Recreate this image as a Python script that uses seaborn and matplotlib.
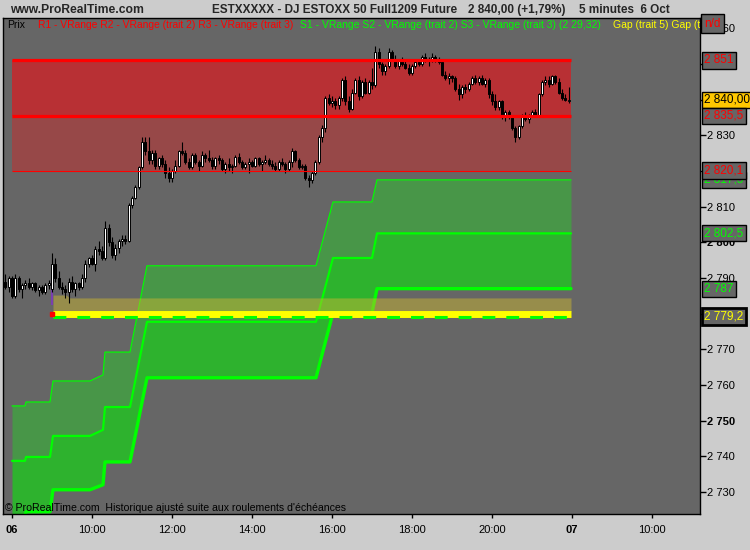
import numpy as np
import pandas as pd
import seaborn as sns
import matplotlib
matplotlib.use('Agg')
import matplotlib.pyplot as plt
from matplotlib.transforms import blended_transform_factory

# 5 minute candles of 6 Oct, first bar 07:50 (hours counted from 08:00)
opens = [2789, 2787.5, 2790, 2785, 2790, 2787, 2788, 2788.5, 2787.5, 2788.5,
         2786.5, 2787.5, 2786, 2788, 2787, 2794, 2790, 2787.5, 2787, 2786,
         2789, 2787, 2788.5, 2787.5, 2790, 2794, 2795.5, 2794, 2798, 2797.5,
         2795.5, 2804, 2800, 2796.5, 2798.5, 2800.5, 2801, 2800.5, 2810.5, 2812.5,
         2815.5, 2821, 2828, 2825.5, 2823, 2825, 2821.5, 2823.5, 2822, 2819.5,
         2818, 2820, 2821.5, 2825.5, 2825, 2822.5, 2821, 2824.5, 2822.5, 2821.5,
         2824.5, 2823.5, 2823, 2821.5, 2823.5, 2823, 2820.5, 2822, 2821, 2821.5,
         2824, 2822.5, 2821, 2822, 2822.5, 2821.5, 2823.5, 2822, 2822.5, 2823,
         2822, 2821.5, 2820.5, 2822.5, 2822, 2820.5, 2822.5, 2825.5, 2823, 2821,
         2821.5, 2818, 2817.5, 2819.5, 2822.5, 2829.5, 2832, 2840.5, 2839, 2839.5,
         2838.5, 2840.5, 2845.5, 2839.5, 2837.5, 2842, 2845.5, 2841, 2845, 2842,
         2845, 2844, 2853.5, 2850, 2848, 2849.5, 2853.5, 2851.5, 2849.5, 2851,
         2850, 2849, 2847.5, 2849.5, 2850.5, 2850, 2852, 2851, 2851.5, 2852,
         2851, 2850.5, 2847, 2846, 2846.5, 2846, 2843, 2841.5, 2843.5, 2843,
         2844.5, 2846, 2845, 2846, 2844.5, 2845.5, 2841.5, 2839.5, 2838, 2839.5,
         2835, 2836.5, 2835, 2832, 2829.5, 2832.5, 2835.5, 2834.5, 2835.5, 2836.5,
         2835.5, 2841.5, 2845, 2845.5, 2844.5, 2846.5, 2845, 2842, 2840.5, 2839.5]
highs = [2791, 2790.5, 2790.5, 2791, 2790.5, 2788.5, 2789.5, 2790, 2789, 2789,
         2788, 2788, 2788.5, 2789.5, 2797, 2795.5, 2792, 2789, 2788, 2790,
         2790.5, 2789, 2789, 2791, 2795, 2796, 2796.5, 2799, 2800.5, 2799,
         2806, 2805, 2801.5, 2799.5, 2801, 2802, 2802, 2811, 2813, 2816,
         2821.5, 2829.5, 2829.5, 2829.5, 2826, 2826, 2824, 2824.5, 2823, 2821,
         2820.5, 2823, 2826, 2828, 2826, 2823.5, 2825, 2825, 2823, 2825.5,
         2825, 2826, 2824, 2824, 2824.5, 2823.5, 2822.5, 2823.5, 2822, 2824.5,
         2825, 2823, 2822.5, 2823.5, 2823, 2824, 2824, 2823, 2824.5, 2823.5,
         2823, 2822.5, 2823, 2823.5, 2822.5, 2823, 2826.5, 2826, 2823.5, 2822,
         2822, 2819, 2820, 2823, 2830, 2833, 2841, 2841.5, 2841, 2840.5,
         2841, 2846, 2846.5, 2841, 2843, 2846, 2846.5, 2845.5, 2846, 2845.5,
         2849, 2855, 2854.5, 2850.5, 2850, 2854.5, 2854, 2852.5, 2851.5, 2852,
         2851.5, 2850, 2850, 2851.5, 2851, 2852.5, 2853, 2852, 2853, 2852.5,
         2852, 2851, 2848, 2847.5, 2847, 2846.5, 2844.5, 2844, 2844.5, 2845,
         2846.5, 2847, 2846.5, 2847, 2846, 2846, 2842.5, 2841.5, 2840, 2840,
         2837, 2837, 2835.5, 2832.5, 2833, 2836, 2836.5, 2836, 2837, 2837.5,
         2842, 2845.5, 2846.5, 2846.5, 2847, 2847, 2846, 2843, 2841.5, 2843.5]
lows = [2787, 2786, 2784.5, 2784.5, 2786, 2784.5, 2787, 2787, 2786.5, 2786,
        2785, 2785.5, 2785.5, 2787, 2786, 2789, 2787, 2785.5, 2784.5, 2783,
        2786, 2785, 2786.5, 2787, 2789, 2793, 2793.5, 2792, 2796.5, 2795,
        2795, 2799, 2795.5, 2795, 2797, 2799, 2799.5, 2800, 2809.5, 2812,
        2815, 2820.5, 2824.5, 2822, 2822, 2820.5, 2820.5, 2821, 2818, 2817,
        2817, 2819.5, 2821, 2824.5, 2822, 2820.5, 2820.5, 2822, 2820, 2821,
        2822.5, 2822.5, 2820.5, 2820.5, 2822, 2820, 2819.5, 2820, 2819.5, 2821,
        2822, 2820.5, 2820.5, 2819.5, 2821, 2821, 2821.5, 2820, 2822, 2821.5,
        2820.5, 2820, 2820, 2821.5, 2819.5, 2820, 2821, 2822.5, 2820.5, 2820.5,
        2817.5, 2815.5, 2816.5, 2819, 2822, 2828, 2831, 2838.5, 2838, 2837.5,
        2837.5, 2839.5, 2838.5, 2836.5, 2837, 2841.5, 2840, 2840.5, 2841.5, 2841.5,
        2843, 2843.5, 2849, 2847, 2847, 2849, 2851, 2849, 2848.5, 2849.5,
        2848.5, 2847, 2847, 2849, 2849.5, 2849.5, 2850.5, 2849.5, 2850.5, 2850.5,
        2850, 2846.5, 2845.5, 2844.5, 2845, 2842.5, 2840, 2840.5, 2842, 2842.5,
        2844, 2844.5, 2844, 2844, 2843.5, 2840.5, 2838.5, 2837, 2837, 2834.5,
        2834, 2834.5, 2831.5, 2828, 2829, 2832, 2834, 2833.5, 2835, 2835,
        2835, 2841, 2844, 2843.5, 2844, 2844.5, 2841.5, 2840, 2839.5, 2839]
closes = [2787.5, 2790, 2785, 2790, 2787, 2788, 2788.5, 2787.5, 2788.5, 2786.5,
          2787.5, 2786, 2788, 2788.5, 2794, 2790, 2787.5, 2787, 2786, 2789,
          2787, 2788.5, 2787.5, 2790, 2794, 2795.5, 2794, 2798, 2797.5, 2795.5,
          2804, 2800, 2796.5, 2798.5, 2800.5, 2801, 2800.5, 2810.5, 2812.5, 2815.5,
          2821, 2828, 2825.5, 2823, 2825, 2821.5, 2823.5, 2822, 2819.5, 2818,
          2820, 2821.5, 2825.5, 2825, 2822.5, 2821, 2824.5, 2822.5, 2821.5, 2824.5,
          2823.5, 2823, 2821.5, 2823.5, 2823, 2820.5, 2822, 2821, 2821.5, 2824,
          2822.5, 2821, 2822, 2822.5, 2821.5, 2823.5, 2822, 2822.5, 2823, 2822,
          2821.5, 2820.5, 2822.5, 2822, 2820.5, 2822.5, 2825.5, 2823, 2821, 2821.5,
          2818, 2817.5, 2819.5, 2822.5, 2829.5, 2832, 2840.5, 2839, 2839.5, 2838.5,
          2840.5, 2845.5, 2839.5, 2837.5, 2842, 2845.5, 2841, 2845, 2842, 2845,
          2844, 2853.5, 2850, 2848, 2849.5, 2853.5, 2851.5, 2849.5, 2851, 2850,
          2849, 2847.5, 2849.5, 2850.5, 2850, 2852, 2851, 2851.5, 2852, 2851,
          2850.5, 2847, 2846, 2846.5, 2846, 2843, 2841.5, 2843.5, 2843, 2844.5,
          2846, 2845, 2846, 2844.5, 2845.5, 2841.5, 2839.5, 2838, 2839.5, 2835,
          2836.5, 2835, 2832, 2829.5, 2832.5, 2835.5, 2834.5, 2835.5, 2836.5, 2835.5,
          2841.5, 2845, 2845.5, 2844.5, 2846.5, 2845, 2842, 2840.5, 2840, 2840]

# VRange resistances R1, R2, R3 (flat over the session)
r_levels = [2851.0, 2835.5, 2820.1]
band_t = [0.0, 13.975]

# VRange supports S1, S2, S3 (step lines)
s_t = [0.0, 0.325, 0.35, 0.95, 1.025, 1.95, 2.275, 2.325, 2.95, 3.375,
       7.6, 8.025, 9.0, 9.125, 13.975]
s1 = [2754.1, 2754.1, 2755.2, 2755.2, 2761.1, 2761.1, 2762.8, 2769.2, 2769.2, 2793.4,
      2793.4, 2811.3, 2811.3, 2817.5, 2817.5]
s2 = [2738.7, 2738.7, 2739.8, 2739.8, 2745.7, 2745.7, 2747.4, 2753.8, 2753.8, 2777.7,
      2777.7, 2795.6, 2795.6, 2802.5, 2802.5]
s3 = [2723.3, 2723.3, 2724.4, 2724.4, 2730.6, 2730.6, 2732.0, 2738.4, 2738.4, 2762.0,
      2762.0, 2780.2, 2780.2, 2787.0, 2787.0]

# Gap zone
gap_t = [1.025, 1.35, 1.45, 13.975]
gap_top = [2785.2, 2785.2, 2784.4, 2784.4]
gap_bottom = [2780.7, 2780.7, 2780.7, 2780.7]
gap_line = 2779.75
gap_dash = 2779.0

# value boxes on the price scale
box_values = [2851.0, 2840.0, 2835.5, 2817.5, 2820.1, 2802.5, 2787.0, 2779.2]
box_texts = ["2 851", "2 840,00", "2 835,5", "2 817,5", "2 820,1", "2 802,5", "2 787", "2 779,2"]
box_colors = ['#ff0000', 'black', '#ff0000', '#00ff00', '#ff0000', '#00ff00', '#00ff00', '#ffff00']

x_ticks = [0, 2, 4, 6, 8, 10, 12, 14, 16]
x_labels = ["06", "10:00", "12:00", "14:00", "16:00", "18:00", "20:00", "07", "10:00"]
y_ticks = list(range(2730, 2870, 10))
hidden_ticks = [2780, 2820, 2840, 2850]  # fully covered by value boxes

sns.set_style("ticks")
plt.rcParams['font.family'] = ['Liberation Sans', 'DejaVu Sans']

fig = plt.figure(figsize=(7.5, 5.5), dpi=100, facecolor='#cccccc')
ax = fig.add_axes([3 / 750, 1 - 514 / 550, 697 / 750, 496 / 550])
ax.set_facecolor('#666666')

# red bands
ax.fill_between(band_t, r_levels[1], r_levels[0], color='#b83034', lw=0, zorder=1)
ax.fill_between(band_t, r_levels[2], r_levels[1], color='#974848', lw=0, zorder=1)

# green bands
ax.fill_between(s_t, s2, s1, color='#489648', lw=0, zorder=1)
ax.fill_between(s_t, s3, s2, color='#2eb22e', lw=0, zorder=1)
sns.lineplot(x=s_t, y=s1, ax=ax, color='#00ff00', lw=0.9, zorder=2)
sns.lineplot(x=s_t, y=s2, ax=ax, color='#00ff00', lw=1.6, zorder=2)
sns.lineplot(x=s_t, y=s3, ax=ax, color='#00ff00', lw=2.4, zorder=2)

# gap zone
ax.fill_between(gap_t, gap_bottom, gap_top, color='#c8b432', alpha=0.5, lw=0, zorder=3)
sns.lineplot(x=[gap_t[0], gap_t[-1]], y=[gap_line, gap_line], ax=ax, color='#ffff00', lw=5,
             solid_capstyle='butt', zorder=3)
ax.plot([gap_t[0], gap_t[-1]], [gap_dash, gap_dash], color='#00ff00', lw=2.2,
        linestyle=(0, (4.2, 3.6)), dash_capstyle='butt', zorder=3)
ax.vlines(gap_t[0] - 0.03, 2782.5, 2789.5, color='#7a3fb0', lw=1.5, zorder=3)
ax.plot(gap_t[0] - 0.03, gap_line, marker='s', ms=3, color='#ff0000', zorder=3)

# candles
df = pd.DataFrame({'open': opens, 'high': highs, 'low': lows, 'close': closes})
df['t'] = -1 / 6 + np.arange(len(df)) / 12
up = df['close'] >= df['open']
ax.vlines(df['t'], df['low'], df['high'], color='black', lw=0.8, zorder=4)
body_bottom = df[['open', 'close']].min(axis=1)
body_height = (df['close'] - df['open']).abs().clip(lower=0.25)
ax.bar(df['t'], body_height, bottom=body_bottom, width=0.055,
       color=np.where(up, 'white', 'black'), edgecolor='black', linewidth=0.7, zorder=4)

# resistance lines on top
for lvl, lw in zip(r_levels, [2.3, 2.3, 0.8]):
    sns.lineplot(x=band_t, y=[lvl, lvl], ax=ax, color='#ff0000', lw=lw,
                 solid_capstyle='butt', zorder=5)

ax.set_xlim(-0.225, 17.2)
ax.set_ylim(2723.8, 2862.9)

# axes look
for sp in ax.spines.values():
    sp.set_color('black')
    sp.set_linewidth(1)
ax.yaxis.tick_right()
ax.set_yticks(y_ticks)
ax.set_yticklabels(["" if v in hidden_ticks else f"{v // 1000} {v % 1000:03d}" for v in y_ticks])
for v, lab in zip(y_ticks, ax.get_yticklabels()):
    if v % 50 == 0:
        lab.set_fontweight('bold')
ax.tick_params(axis='y', direction='out', length=4, width=1, pad=1, labelsize=8, colors='black')
ax.set_xticks(x_ticks)
ax.set_xticklabels(x_labels)
for lab in ax.get_xticklabels():
    if ':' not in lab.get_text():
        lab.set_fontweight('bold')
ax.tick_params(axis='x', direction='out', length=3, width=1, pad=5, labelsize=8, colors='black')
ax.set_xlabel('')
ax.set_ylabel('')

# boxes on the price scale
trans = blended_transform_factory(ax.transAxes, ax.transData)
for v, txt, c in zip(box_values, box_texts, box_colors):
    fc = '#ffc800' if txt == "2 840,00" else '#666666'
    lw = 2 if txt == "2 779,2" else 1
    ax.text(1.006, v, txt, transform=trans, ha='left', va='center', color=c, fontsize=8.5,
            bbox=dict(boxstyle='square,pad=0.18', fc=fc, ec='black', lw=lw),
            clip_on=False, zorder=10)
ax.text(1.006, 0.988, 'n/d', transform=ax.transAxes, ha='left', va='center', color='#ff0000',
        fontsize=8.5, bbox=dict(boxstyle='square,pad=0.3', fc='#666666', ec='black', lw=1),
        clip_on=False, zorder=10)

# indicator legend line
leg_y = (514 - 25) / 496
ax.text(4 / 697, leg_y, 'Prix', transform=ax.transAxes, fontsize=7.5, color='black', va='center', zorder=11)
ax.text(35 / 697, leg_y, 'R1 - VRange R2 - VRange (trait 2) R3 - VRange (trait 3)',
        transform=ax.transAxes, fontsize=7.4, color='#ff0000', va='center', zorder=11)
ax.text(297 / 697, leg_y, 'S1 - VRange S2 - VRange (trait 2) S3 - VRange (trait 3) (2 29,32)',
        transform=ax.transAxes, fontsize=7.5, color='#00ff00', va='center', zorder=11)
gap_txt = ax.text(610 / 697, leg_y, 'Gap (trait 5) Gap (trait 5)', transform=ax.transAxes,
                  fontsize=7.5, color='#ffff00', va='center', zorder=11, clip_on=True)
gap_txt.set_clip_box(ax.bbox)

ax.text(2 / 697, (514 - 508) / 496,
        "\u00a9 ProRealTime.com  Historique ajust\u00e9 suite aux roulements d'\u00e9ch\u00e9ances",
        transform=ax.transAxes, fontsize=7.6, color='black', va='center', zorder=11)

# header
fig.text(10 / 750, 1 - 10 / 550, 'www.ProRealTime.com', fontsize=8.7, fontweight='bold', va='center')
fig.text(212 / 750, 1 - 10 / 550, 'ESTXXXXX - DJ ESTOXX 50 Full1209 Future', fontsize=8.5,
         fontweight='bold', va='center')
fig.text(468 / 750, 1 - 10 / 550, '2 840,00 (+1,79%)', fontsize=8.5, fontweight='bold', va='center')
fig.text(579 / 750, 1 - 10 / 550, '5 minutes  6 Oct', fontsize=8.5, fontweight='bold', va='center')

fig.savefig('out.png', dpi=100, facecolor=fig.get_facecolor())
